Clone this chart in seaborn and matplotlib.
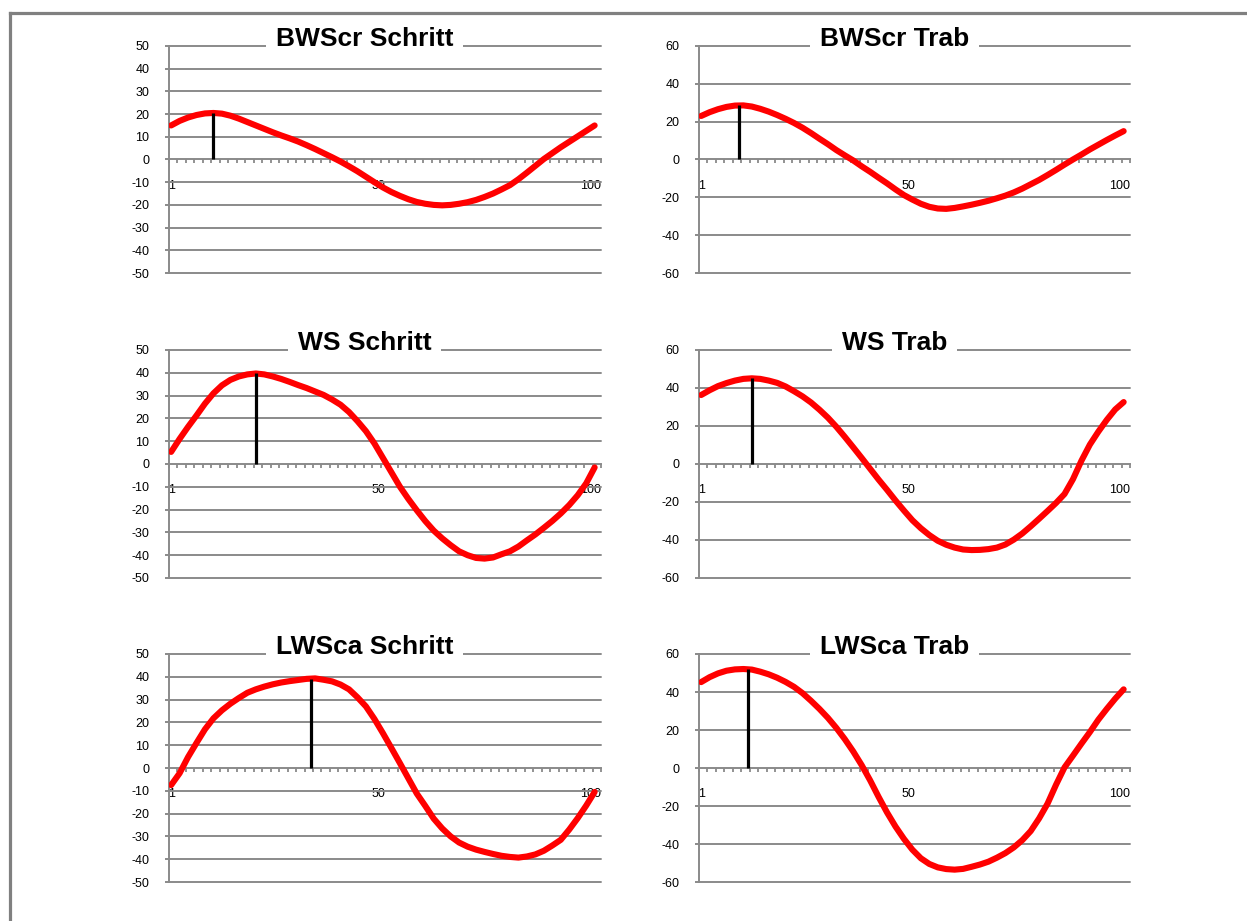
import numpy as np
import pandas as pd
import matplotlib
matplotlib.use("Agg")
import matplotlib.pyplot as plt
from matplotlib.lines import Line2D
from matplotlib.ticker import FixedLocator
import seaborn as sns

# Position within the stride cycle (%) at which each angle curve is sampled
cycle_pos = list(range(1, 102, 2))

bwscr_schritt = [15, 17, 18.5, 19.6, 20.3, 20.5, 20.2, 19.3, 18, 16.5,
                 15, 13.5, 12, 10.6, 9.3, 7.9, 6.3, 4.6, 2.8, 1,
                 -0.9, -3, -5.2, -7.6, -10, -12.3, -14.3, -16, -17.5, -18.7,
                 -19.5, -20, -20.2, -20, -19.5, -18.8, -17.8, -16.5, -15, -13.2,
                 -11.3, -8.7, -5.8, -2.8, 0.2, 2.8, 5.4, 7.8, 10.2, 12.6, 15]
bwscr_trab = [23, 25, 26.6, 27.8, 28.5, 28.6, 28, 26.8, 25.3, 23.5,
              21.5, 19.3, 16.8, 14, 11, 8.1, 5, 2.2, -0.5, -3.6,
              -6.5, -9.6, -12.6, -15.8, -18.8, -21.2, -23.4, -25, -25.9, -26.1,
              -25.6, -24.8, -23.9, -22.9, -21.8, -20.5, -19.1, -17.4, -15.4, -13.1,
              -10.8, -8.2, -5.5, -2.7, 0, 2.6, 5.3, 7.8, 10.3, 12.7, 15]
ws_schritt = [5.3, 11, 16.3, 21.3, 26.5, 31, 34.5, 36.9, 38.4, 39.3,
              39.7, 39.3, 38.4, 37.3, 36, 34.6, 33.3, 31.8, 30.3, 28.3,
              26, 22.8, 18.8, 14.4, 9, 2.7, -3.6, -9.9, -15.3, -20.3,
              -25, -29.2, -32.6, -35.6, -38.3, -40, -41.2, -41.5, -41, -39.6,
              -38.3, -36.2, -33.5, -30.9, -28, -25, -21.7, -18, -13.7, -8.5, -1.5]
ws_trab = [36.3, 38.8, 41, 42.6, 43.9, 44.8, 45.1, 44.8, 43.9, 42.7,
           40.8, 38.3, 35.6, 32.4, 28.6, 24.4, 19.6, 14.3, 8.8, 3.2,
           -2.5, -8.2, -13.6, -19.2, -24.5, -29.6, -33.8, -37.4, -40.4, -42.5,
           -44, -45, -45.3, -45.2, -44.8, -44, -42.4, -39.8, -36.6, -32.8,
           -28.8, -24.7, -20.5, -15.8, -8, 1.7, 10.2, 17, 23.2, 28.7, 32.6]
lwsca_schritt = [-7.5, -2.3, 4.8, 11, 17, 21.8, 25.3, 28.2, 30.7, 33,
                 34.5, 35.7, 36.7, 37.5, 38.1, 38.6, 39.1, 39.3, 38.7, 38,
                 36.6, 34.5, 31, 27, 21.5, 15.3, 8.8, 2.2, -4.5, -11.2,
                 -16.6, -22.2, -26.5, -30, -32.7, -34.5, -35.8, -36.8, -37.7, -38.5,
                 -39, -39.3, -38.8, -37.9, -36.3, -34, -31.5, -27, -22, -16.5, -10.5]
lwsca_trab = [45.2, 47.8, 49.8, 51.2, 51.9, 52.1, 51.8, 50.7, 49.3, 47.5,
              45.3, 42.7, 39.4, 35.4, 31.1, 26.4, 21.1, 15.2, 8.7, 1.5,
              -6.5, -15.2, -23.4, -30.8, -37.3, -43, -47.5, -50.5, -52.3, -53.2,
              -53.5, -53.1, -52, -50.8, -49.3, -47.2, -44.8, -41.8, -38, -33.2,
              -26.5, -18.7, -8.8, 0.3, 6.5, 12.8, 18.9, 25.4, 31.1, 36.5, 41.4]

titles = ["BWScr Schritt", "BWScr Trab", "WS Schritt", "WS Trab",
          "LWSca Schritt", "LWSca Trab"]
series = [bwscr_schritt, bwscr_trab, ws_schritt, ws_trab, lwsca_schritt, lwsca_trab]

# Position and value of the maximum, marked with a vertical bar
peak_pos = [11, 10, 21, 13, 34, 12]
peak_val = [20.5, 28.6, 39.7, 45.1, 39.2, 52.0]

y_limit = [50, 60, 50, 60, 50, 60]
y_step = [10, 20, 10, 20, 10, 20]
x_labels = [1, 50, 100]

W, H = 1247, 921
GRID = "#8a8a8a"

sns.set_style("white")
plt.rcParams["font.family"] = ["Liberation Sans", "DejaVu Sans"]

fig = plt.figure(figsize=(W / 100, H / 100), dpi=100)

col_left = [169, 699]
col_width = [432, 431]
row_top = [46, 350, 654]
row_height = [227, 228, 228]

for i, (title, values) in enumerate(zip(titles, series)):
    r, c = divmod(i, 2)
    rect = [col_left[c] / W, 1 - (row_top[r] + row_height[r]) / H,
            col_width[c] / W, row_height[r] / H]
    ax = fig.add_axes(rect)

    df = pd.DataFrame({"pos": cycle_pos, "angle": values})
    sns.lineplot(data=df, x="pos", y="angle", ax=ax, color="#ff0000", lw=4.4,
                 solid_capstyle="round", solid_joinstyle="round", zorder=4)
    ax.vlines(peak_pos[i], 0, peak_val[i], color="black", lw=2.3, zorder=5)

    lim, step = y_limit[i], y_step[i]
    ax.set_xlim(0.5, 102.5)
    ax.set_ylim(-lim, lim)
    yt = list(range(-lim, lim + 1, step))
    ax.set_yticks(yt)
    ax.set_yticklabels([str(v) for v in yt])
    for v in yt:
        if v != 0:
            ax.axhline(v, color=GRID, lw=1.4, clip_on=False, zorder=1)

    for side in ("top", "right"):
        ax.spines[side].set_visible(False)
    ax.spines["left"].set_color(GRID)
    ax.spines["left"].set_linewidth(1.4)
    ax.spines["bottom"].set_position(("data", 0))
    ax.spines["bottom"].set_color(GRID)
    ax.spines["bottom"].set_linewidth(1.4)
    ax.spines["bottom"].set_zorder(3)

    ax.set_xticks(x_labels)
    ax.set_xticklabels([str(v) for v in x_labels])
    ax.xaxis.set_minor_locator(FixedLocator(np.arange(0.5, 102.6, 2)))
    ax.tick_params(axis="x", which="both", bottom=True, top=False)
    ax.tick_params(axis="x", which="major", length=0, pad=14.5, labelsize=9,
                   labelcolor="black")
    ax.tick_params(axis="x", which="minor", length=3, width=1.3, color=GRID,
                   direction="out")
    ax.tick_params(axis="y", left=True, right=False, length=3, width=1.4,
                   color=GRID, pad=11, labelsize=9, labelcolor="black",
                   direction="out")
    ax.set_xlabel("")
    ax.set_ylabel("")

    ax.text(0.453, 1.0, title, transform=ax.transAxes, ha="center", va="baseline",
            fontsize=19, fontweight="bold", color="black", zorder=10, clip_on=False,
            bbox=dict(facecolor="white", edgecolor="none", pad=7))

# Frame of the chart area (left and top edges)
bx, by = 10 / W, 1 - 13 / H
fig.add_artist(Line2D([bx, bx], [0, by], transform=fig.transFigure,
                      color="#808080", lw=2.3, solid_capstyle="projecting"))
fig.add_artist(Line2D([bx, 1], [by, by], transform=fig.transFigure,
                      color="#808080", lw=2.3, solid_capstyle="projecting"))

fig.savefig("out.png", dpi=100)
